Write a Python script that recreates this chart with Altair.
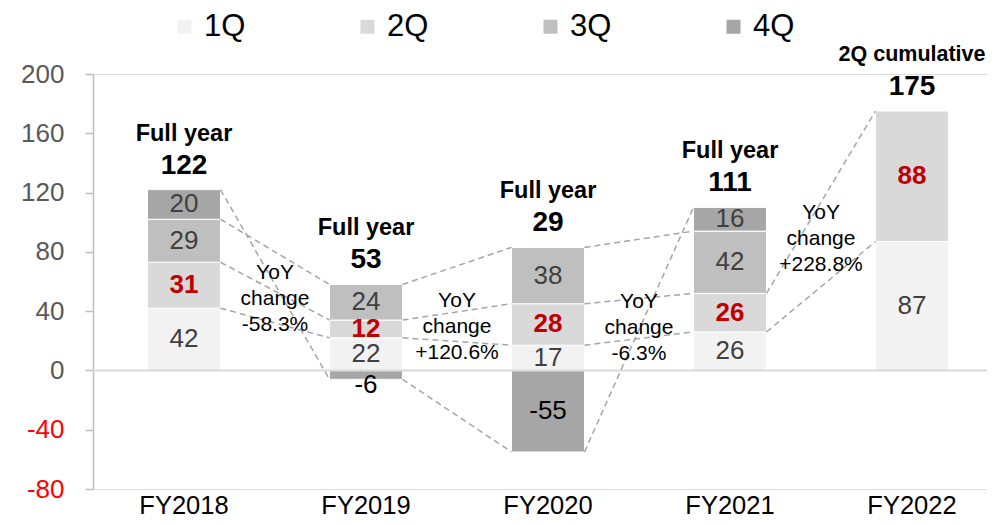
import altair as alt
import pandas as pd

# ---------------- data ----------------
years = ["FY2018", "FY2019", "FY2020", "FY2021", "FY2022"]
quarters = ["1Q", "2Q", "3Q", "4Q"]
q1 = [42, 22, 17, 26, 87]
q2 = [31, 12, 28, 26, 88]
q3 = [29, 24, 38, 42, None]
q4 = [20, -6, -55, 16, None]
totals = ["122", "53", "29", "111", "175"]
headers = ["Full year", "Full year", "Full year", "Full year", "2Q cumulative"]
header_sizes = [23.5, 23.5, 23.5, 23.5, 21.5]
yoy_labels = ["-58.3%", "+120.6%", "-6.3%", "+228.8%"]
yoy_pos = [65.5, 47, 46, 106]
colors = ["#F2F2F2", "#D9D9D9", "#BFBFBF", "#A6A6A6"]
y_ticks = [-80, -40, 0, 40, 80, 120, 160, 200]

FONT = "Liberation Sans"

# ---------------- derived tables ----------------
qvals = {"1Q": q1, "2Q": q2, "3Q": q3, "4Q": q4}
rows = []
for i, yr in enumerate(years):
    pos, neg = 0, 0
    for qi, q in enumerate(quarters):
        v = qvals[q][i]
        if v is None:
            continue
        if v >= 0:
            start = pos
            pos += v
        else:
            start = neg
            neg += v
        end = start + v
        if q == "2Q":
            tc = "#C00000"
        elif v < 0:
            tc = "#000000"
        else:
            tc = "#404040"
        rows.append(dict(year=yr, quarter=q, order=qi, value=v, start=start,
                         end=end, mid=(start + end) / 2, label=str(v), tcolor=tc,
                         small=abs(v) < 10))
seg = pd.DataFrame(rows)

tops = seg[seg.value > 0].groupby("year", sort=False)["end"].max()
tot = pd.DataFrame({"year": years, "total": totals, "header": headers,
                    "hsize": header_sizes,
                    "top": [tops[y] for y in years]})

links = []
for i in range(len(years) - 1):
    a = seg[seg.year == years[i]].set_index("quarter")["end"]
    b = seg[seg.year == years[i + 1]].set_index("quarter")["end"]
    for q in quarters:
        if q in a.index and q in b.index:
            links.append(dict(src=years[i], dst=years[i + 1], y1=a[q], y2=b[q]))
links = pd.DataFrame(links)

yoy = pd.DataFrame({"src": years[:-1],
                    "txt": ["YoY\nchange\n" + s for s in yoy_labels],
                    "ypos": yoy_pos})

# ---------------- scales / axes ----------------
xscale = alt.Scale(domain=years, paddingInner=0.599, paddingOuter=0.2555, align=0.586)
yscale = alt.Scale(domain=[-80, 200], nice=False, zero=False)

xax = alt.Axis(title=None, labelAngle=0, domain=False, ticks=False, labelPadding=4,
               labelFontSize=25.5, labelColor="#000000", labelFont=FONT)
yax = alt.Axis(title=None, values=y_ticks, grid=False, tickSize=8, labelPadding=21,
               labelFontSize=26, labelFont=FONT, domainColor="#BFBFBF",
               tickColor="#BFBFBF", domainWidth=1.5, tickWidth=1.5,
               labelExpr="'' + datum.value",
               labelColor={"condition": {"test": "datum.value < 0", "value": "#FF0000"},
                           "value": "#595959"})


def X(field):
    return alt.X(field, scale=xscale, axis=xax)


def Y(field):
    return alt.Y(field, scale=yscale, axis=yax)


bars = alt.Chart(seg).mark_bar(stroke="white", strokeWidth=1).encode(
    x=X("year:N"),
    y=Y("start:Q"),
    y2="end:Q",
    color=alt.Color("quarter:N", scale=alt.Scale(domain=quarters, range=colors),
                    legend=alt.Legend(orient="none", legendX=76, legendY=-63,
                                      direction="horizontal", title=None,
                                      symbolType="square", symbolSize=196,
                                      symbolStrokeWidth=0, labelFontSize=31,
                                      labelFont=FONT, labelOffset=4,
                                      columnPadding=106, labelColor="#000000",
                                      padding=0)),
)

zero = alt.Chart(pd.DataFrame({"z": [0]})).mark_rule(color="#D9D9D9", strokeWidth=2).encode(
    y=Y("z:Q")
)

dash = alt.Chart(links).mark_rule(color="#A6A6A6", strokeWidth=1.5, strokeDash=[6, 4]).encode(
    x=alt.X("src:N", scale=xscale, bandPosition=1, axis=xax),
    x2=alt.X2("dst:N", bandPosition=0),
    y=Y("y1:Q"),
    y2="y2:Q",
)

seg_norm = alt.Chart(seg).transform_filter(
    "datum.quarter != '2Q' && !datum.small"
).mark_text(fontSize=26, font=FONT, baseline="middle").encode(
    x=X("year:N"), y=Y("mid:Q"), text="label:N",
    color=alt.Color("tcolor:N", scale=None),
)

seg_red = alt.Chart(seg).transform_filter(
    "datum.quarter == '2Q'"
).mark_text(fontSize=26, font=FONT, fontWeight="bold", baseline="middle").encode(
    x=X("year:N"), y=Y("mid:Q"), text="label:N",
    color=alt.Color("tcolor:N", scale=None),
)

seg_small = alt.Chart(seg).transform_filter(
    "datum.small && datum.quarter != '2Q'"
).mark_text(fontSize=26, font=FONT, baseline="top", dy=-7).encode(
    x=X("year:N"), y=Y("end:Q"), text="label:N",
    color=alt.Color("tcolor:N", scale=None),
)

tot_num = alt.Chart(tot).mark_text(fontSize=28, font=FONT, fontWeight="bold",
                                   baseline="middle", dy=-24, color="#000000").encode(
    x=X("year:N"), y=Y("top:Q"), text="total:N"
)
tot_head = alt.Chart(tot).mark_text(font=FONT, fontWeight="bold",
                                    baseline="middle", dy=-56, color="#000000").encode(
    x=X("year:N"), y=Y("top:Q"), text="header:N",
    size=alt.Size("hsize:Q", scale=None, legend=None),
)

yoy_txt = alt.Chart(yoy).mark_text(fontSize=21, font=FONT, lineBreak="\n", lineHeight=26,
                                   baseline="middle", align="center", dx=91,
                                   color="#000000").encode(
    x=X("src:N"),
    y=Y("ypos:Q"),
    text="txt:N",
)

chart = alt.layer(
    bars, zero, dash, seg_norm, seg_red, seg_small, tot_num, tot_head, yoy_txt
).properties(
    width=894, height=415,
    autosize=alt.AutoSizeParams(type="none"),
    padding={"left": 85, "top": 66, "right": 0, "bottom": 28},
).configure_view(strokeWidth=0, stroke="transparent").configure(font=FONT)

chart.save("out.html", embed_options={"renderer": "svg", "actions": False})
